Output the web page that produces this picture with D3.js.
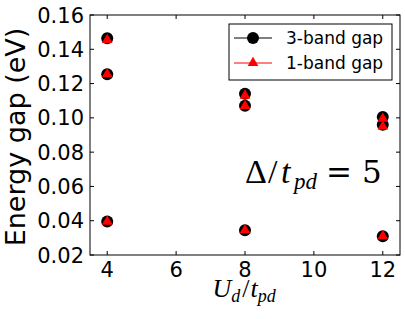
<!DOCTYPE html>
<html>
<head>
<meta charset="utf-8">
<script src="https://cdn.jsdelivr.net/npm/d3@7"></script>
<style>
  body { margin: 0; background: #fff; }
  svg text { font-family: "DejaVu Sans", sans-serif; }
  .math { font-family: "Liberation Serif", "DejaVu Serif", serif; font-style: italic; }
</style>
</head>
<body>
<div id="chart"></div>
<script>
// values
var ud = [4, 4, 4, 8, 8, 8, 12, 12, 12];
var gap3 = [0.1465, 0.1255, 0.0395, 0.1140, 0.1070, 0.0345, 0.1005, 0.0960, 0.0310];
var gap1 = [0.1455, 0.1255, 0.0395, 0.1130, 0.1070, 0.0345, 0.0995, 0.0950, 0.0310];
var xTicks = [4, 6, 8, 10, 12];
var yTicks = [0.02, 0.04, 0.06, 0.08, 0.10, 0.12, 0.14, 0.16];
var legendNames = ["3-band gap", "1-band gap"];

var width = 405, height = 319;
var pLeft = 90, pRight = 400, pTop = 15, pBottom = 255;

var svg = d3.select("#chart").append("svg")
    .attr("width", width)
    .attr("height", height);

var x = d3.scaleLinear().domain([3.5, 12.5]).range([pLeft, pRight]);
var y = d3.scaleLinear().domain([0.02, 0.16]).range([pBottom, pTop]);

// frame
svg.append("rect")
    .attr("x", pLeft).attr("y", pTop)
    .attr("width", pRight - pLeft).attr("height", pBottom - pTop)
    .attr("fill", "none").attr("stroke", "#000").attr("stroke-width", 1);

// ticks pointing inward, on all four sides
var tk = 4;
svg.selectAll(".xt").data(xTicks).enter().append("line")
    .attr("x1", d => x(d)).attr("x2", d => x(d))
    .attr("y1", pBottom).attr("y2", pBottom - tk)
    .attr("stroke", "#000");
svg.selectAll(".xtt").data(xTicks).enter().append("line")
    .attr("x1", d => x(d)).attr("x2", d => x(d))
    .attr("y1", pTop).attr("y2", pTop + tk)
    .attr("stroke", "#000");
svg.selectAll(".yt").data(yTicks).enter().append("line")
    .attr("x1", pLeft).attr("x2", pLeft + tk)
    .attr("y1", d => y(d)).attr("y2", d => y(d))
    .attr("stroke", "#000");
svg.selectAll(".ytr").data(yTicks).enter().append("line")
    .attr("x1", pRight).attr("x2", pRight - tk)
    .attr("y1", d => y(d)).attr("y2", d => y(d))
    .attr("stroke", "#000");

// tick labels
svg.selectAll(".xl").data(xTicks).enter().append("text")
    .attr("x", d => x(d)).attr("y", pBottom + 22)
    .attr("text-anchor", "middle")
    .attr("font-size", 21)
    .text(d => d);
svg.selectAll(".yl").data(yTicks).enter().append("text")
    .attr("x", pLeft - 6).attr("y", d => y(d) + 7.5)
    .attr("text-anchor", "end")
    .attr("font-size", 21)
    .text(d => d.toFixed(2));

// axis titles
svg.append("text")
    .attr("transform", "translate(25," + ((pTop + pBottom) / 2 + 2) + ") rotate(-90)")
    .attr("text-anchor", "middle")
    .attr("font-size", 27)
    .text("Energy gap (eV)");

var xt = svg.append("text")
    .attr("class", "math")
    .attr("x", (pLeft + pRight) / 2 - 1).attr("y", 297)
    .attr("text-anchor", "middle")
    .attr("font-size", 26);
xt.append("tspan").text("U");
xt.append("tspan").attr("dy", 5).attr("font-size", 18).text("d");
xt.append("tspan").attr("dy", -5).attr("dx", 2).attr("font-style", "normal").text("/");
xt.append("tspan").attr("dx", 1).text("t");
xt.append("tspan").attr("dy", 5).attr("font-size", 18).text("pd");

// annotation
var an = svg.append("text")
    .attr("class", "math")
    .attr("y", 183)
    .attr("font-size", 34);
an.append("tspan").attr("x", 245).attr("font-style", "normal").text("\u0394");
an.append("tspan").attr("x", 268).attr("font-style", "normal").text("/");
an.append("tspan").attr("x", 281).text("t");
an.append("tspan").attr("x", 294).attr("dy", 6).attr("font-size", 23).text("pd");
an.append("tspan").attr("x", 326).attr("dy", -6)
    .attr("font-style", "normal").attr("font-family", "DejaVu Serif")
    .attr("font-size", 31).text("=");
an.append("tspan").attr("x", 362)
    .attr("font-style", "normal").attr("font-family", "DejaVu Serif")
    .attr("font-size", 31).text("5");

// markers
var pts = ud.map((d, i) => ({u: d, g3: gap3[i], g1: gap1[i]}));
svg.selectAll(".c").data(pts).enter().append("circle")
    .attr("cx", d => x(d.u)).attr("cy", d => y(d.g3))
    .attr("r", 6).attr("fill", "#000");
var tri = d3.symbol().type(d3.symbolTriangle).size(50);
svg.selectAll(".t").data(pts).enter().append("path")
    .attr("d", tri)
    .attr("transform", d => "translate(" + x(d.u) + "," + y(d.g1) + ")")
    .attr("fill", "red");

// legend
var lg = svg.append("g");
lg.append("rect")
    .attr("x", 229).attr("y", 24).attr("width", 163).attr("height", 56)
    .attr("fill", "#fff").attr("stroke", "#000");
var rows = [38, 63];
var colors = ["#000", "red"];
legendNames.forEach(function(name, i) {
  lg.append("line")
    .attr("x1", 234).attr("x2", 272).attr("y1", rows[i]).attr("y2", rows[i])
    .attr("stroke", colors[i]).attr("stroke-width", 1);
  if (i === 0) {
    lg.append("circle").attr("cx", 253).attr("cy", rows[i]).attr("r", 6).attr("fill", "#000");
  } else {
    lg.append("path").attr("d", tri)
      .attr("transform", "translate(253," + rows[i] + ")")
      .attr("fill", "red");
  }
  lg.append("text")
    .attr("x", 286).attr("y", rows[i] + 6)
    .attr("font-size", 17)
    .text(name);
});
</script>
</body>
</html>
